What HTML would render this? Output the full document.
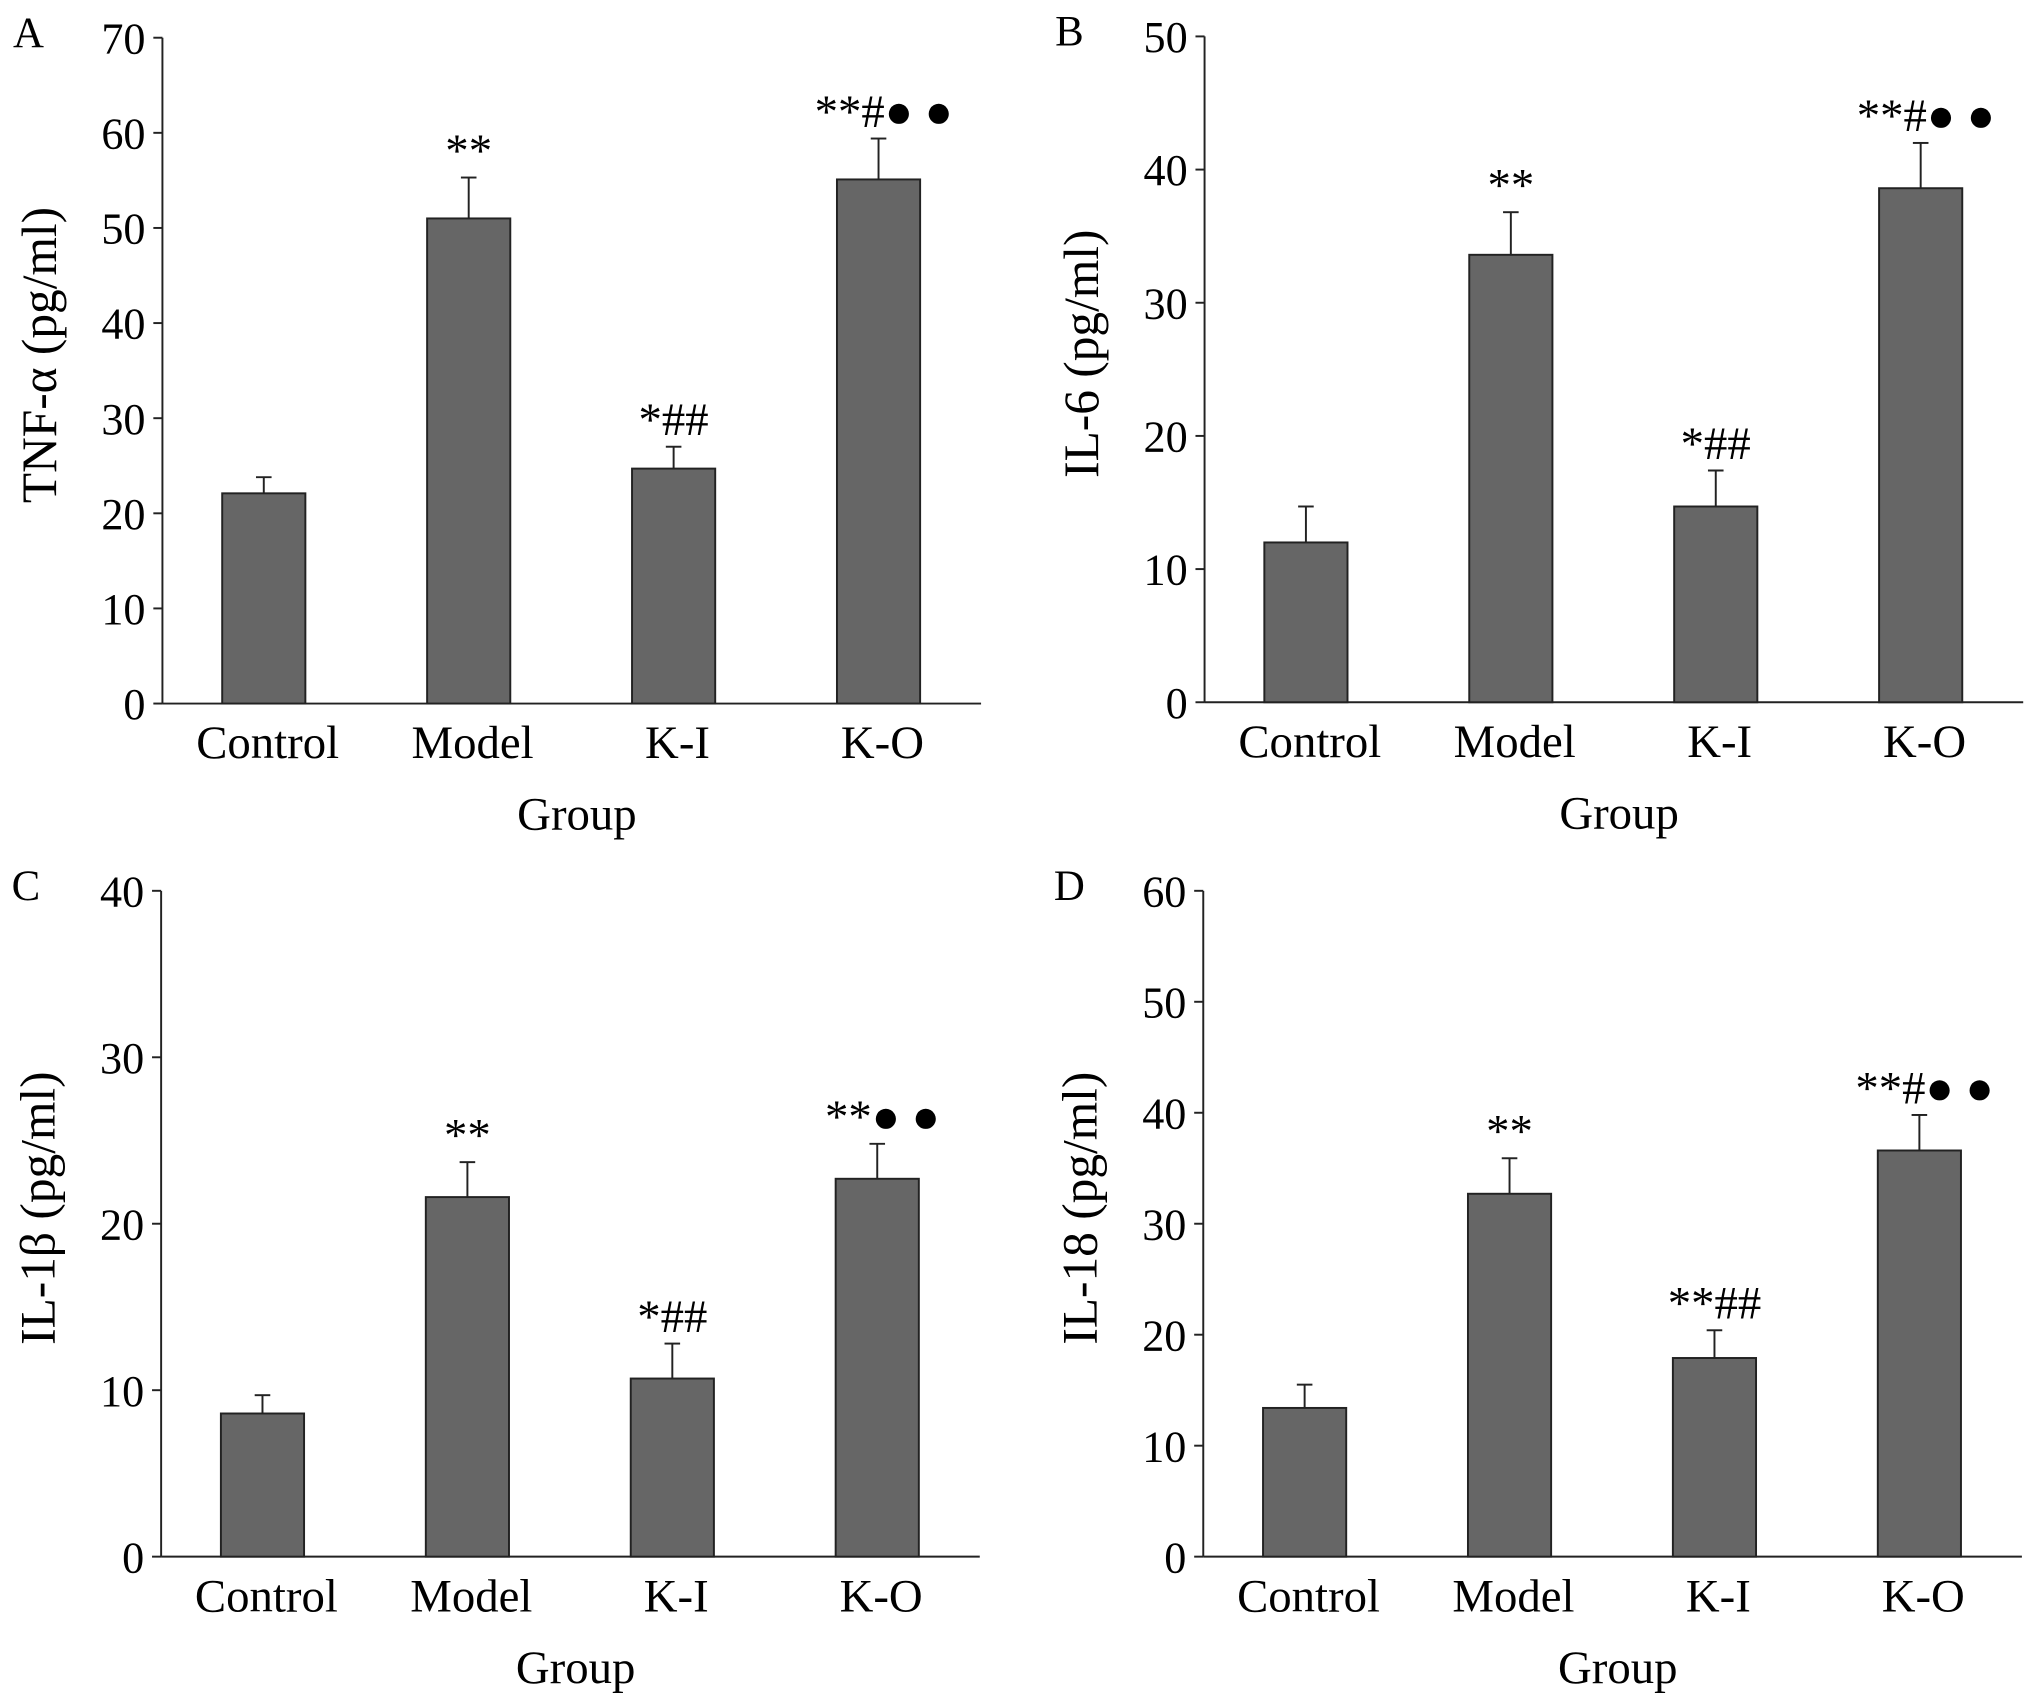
<!DOCTYPE html>
<html><head><meta charset="utf-8"><style>html,body{margin:0;padding:0;background:#fff}svg{display:block}</style></head>
<body>
<svg id="fig" width="2031" height="1701" viewBox="0 0 1563 1308" preserveAspectRatio="none" xmlns="http://www.w3.org/2000/svg" font-family="'Liberation Serif', serif"></svg>
<script>
const categories = ["Control","Model","K-I","K-O"];
const valuesA = [22.1, 51.0, 24.7, 55.1];
const errorsA = [1.7, 4.3, 2.3, 4.3];
const annotA = ["", "**", "*##", "**#● ●"];
const valuesB = [12.0, 33.6, 14.7, 38.6];
const errorsB = [2.7, 3.2, 2.7, 3.4];
const annotB = ["", "**", "*##", "**#● ●"];
const valuesC = [8.6, 21.6, 10.7, 22.7];
const errorsC = [1.1, 2.1, 2.1, 2.1];
const annotC = ["", "**", "*##", "**● ●"];
const valuesD = [13.4, 32.7, 17.9, 36.6];
const errorsD = [2.1, 3.2, 2.5, 3.2];
const annotD = ["", "**", "**##", "**#● ●"];
const ticksA = [0,10,20,30,40,50,60,70];
const ticksB = [0,10,20,30,40,50];
const ticksC = [0,10,20,30,40];
const ticksD = [0,10,20,30,40,50,60];

const NS = "http://www.w3.org/2000/svg";
const svg = document.getElementById("fig");
function mk(tag, attrs, parent, text){
  const e = document.createElementNS(NS, tag);
  for (const k in attrs) e.setAttribute(k, attrs[k]);
  if (text !== undefined) e.textContent = text;
  (parent || svg).appendChild(e);
  return e;
}
function panel(id, ox, oy, letter, ylabel, ticks, vals, errs, annots){
  const g = mk("g", {});
  
  
  const ax = ox + 125, y0 = oy + 541, yTop = oy + 29, xEnd = ox + 755;
  const maxV = ticks[ticks.length - 1];
  const yS = v => y0 - (v / maxV) * (y0 - yTop);
  const xS = i => ox + 203 + i * 157.7;
  const bw = 64;
  const L = mk("text", {x: ox + 10, y: oy + 36, "font-size": 33}, g, letter);
  
  
  const yAxis = mk("line", {x1: ax, y1: yTop, x2: ax, y2: y0, stroke: "#222", "stroke-width": 1.5}, g);
  
  
  const xAxis = mk("line", {x1: ax, y1: y0, x2: xEnd, y2: y0, stroke: "#222", "stroke-width": 1.5}, g);
  
  
  ticks.forEach(t => {
    const y = yS(t);
    mk("line", {x1: ax - 7, y1: y, x2: ax, y2: y, stroke: "#222", "stroke-width": 1.5}, g);
    const tl = mk("text", {x: ax - 13, y: y + 12, "font-size": 34, "text-anchor": "end"}, g, String(t));
    
    
  });
  const yl = mk("text", {x: 0, y: 0, "font-size": 38, "text-anchor": "middle", transform: `translate(${ox + 43},${(yTop + y0) / 2 - 12}) rotate(-90)`}, g, ylabel);
  
  
  vals.forEach((v, i) => {
    const cx = xS(i), top = yS(v), et = yS(v + errs[i]);
    const eb = mk("line", {x1: cx, y1: top, x2: cx, y2: et, stroke: "#222", "stroke-width": 1.5}, g);
    
    
    mk("line", {x1: cx - 6, y1: et, x2: cx + 6, y2: et, stroke: "#222", "stroke-width": 1.5}, g);
    const r = mk("rect", {x: cx - bw / 2, y: top, width: bw, height: y0 - top, fill: "#666", stroke: "#222", "stroke-width": 1.5}, g);
    
    
    if (annots[i]) {
      const dx = annots[i].includes("●") ? 4 : 0;
      const a = mk("text", {x: cx + dx, y: et - 9, "font-size": 36, "text-anchor": "middle"}, g, annots[i]);
      
      
    }
    const cl = mk("text", {x: cx + 3, y: oy + 583, "font-size": 36, "text-anchor": "middle"}, g, categories[i]);
    
    
  });
  const xt = mk("text", {x: ox + 444, y: oy + 638, "font-size": 36, "text-anchor": "middle"}, g, "Group");
  
  
}
panel("a", 0, 0, "A", "TNF-α (pg/ml)", ticksA, valuesA, errorsA, annotA);
panel("b", 802, -1, "B", "IL-6 (pg/ml)", ticksB, valuesB, errorsB, annotB);
panel("c", -1, 656, "C", "IL-1β (pg/ml)", ticksC, valuesC, errorsC, annotC);
panel("d", 801, 656, "D", "IL-18 (pg/ml)", ticksD, valuesD, errorsD, annotD);
</script>
</body></html>
